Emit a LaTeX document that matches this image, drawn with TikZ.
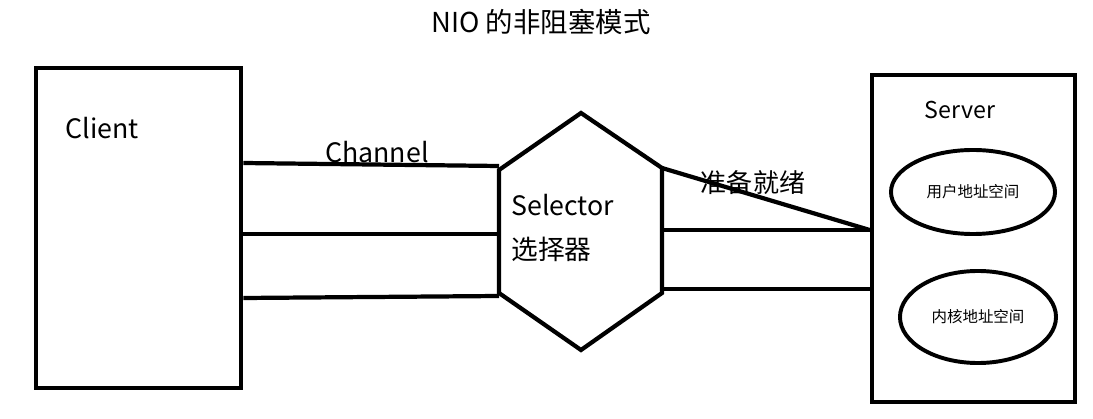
\documentclass[tikz,border=0pt]{standalone}
\usepackage{fontspec}
\setmainfont{Noto Sans CJK SC}
\usetikzlibrary{positioning,shapes.geometric}

\begin{document}
\begin{tikzpicture}[
  x=0.025cm, y=-0.025cm,
  box/.style={draw, line width=3.2pt, rectangle, inner sep=0pt},
  space/.style={draw, line width=2.8pt, ellipse, inner sep=0pt, font=\fontsize{11}{13}\selectfont},
  wire/.style={line width=3pt},
  label/.style={font=\fontsize{18}{21}\selectfont, inner sep=0pt}
]
\useasboundingbox (0,0) rectangle (1093,419);

\node[label, font=\fontsize{19.5}{22}\selectfont] (title) at (541,22) {NIO 的非阻塞模式};

% client side
\node[box, minimum width=5.125cm, minimum height=8cm] (client) at (138.5,228) {};
\node[label, font=\fontsize{19}{22}\selectfont] (clientlbl) at (102,128) {Client};

% selector hexagon
\coordinate (hexT) at (581,113);
\coordinate (hexUL) at (499,170);
\coordinate (hexLL) at (499,293);
\coordinate (hexB) at (581,350);
\coordinate (hexLR) at (662,293);
\coordinate (hexUR) at (662,168);
\draw[wire, line join=miter] (hexT) -- (hexUR) -- (hexLR) -- (hexB) -- (hexLL) -- (hexUL) -- cycle;
\node[label, align=left, anchor=west, font=\fontsize{19}{31}\selectfont] (sel) at (511,228) {Selector\\选择器};

% channels
\draw[wire] (client.east |- 0,163) -- (hexUL |- 0,166);
\draw[wire] (client.east |- 0,234) -- (hexUL |- 0,234);
\draw[wire] (client.east |- 0,298) -- (hexUL |- 0,296);
\node[label, font=\fontsize{19}{22}\selectfont] (chan) at (377,152) {Channel};

% server side
\node[box, minimum width=5.075cm, minimum height=8.175cm] (server) at (973.5,238.5) {};
\node[label, font=\fontsize{16.5}{19}\selectfont] (serverlbl) at (960,110) {Server};
\node[space, minimum width=4.1cm, minimum height=2.1cm] (user) at (973,192) {用户地址空间};
\node[space, minimum width=3.9cm, minimum height=2.3cm] (kernel) at (978,317) {内核地址空间};

\draw[wire] (hexUR) -- (server.west |- 0,230);
\draw[wire] (hexUR |- 0,230) -- (server.west |- 0,230);
\draw[wire] (hexLR |- 0,289) -- (server.west |- 0,289);
\node[label, font=\fontsize{18.5}{21}\selectfont] (ready) at (753,183) {准备就绪};
\end{tikzpicture}
\end{document}
